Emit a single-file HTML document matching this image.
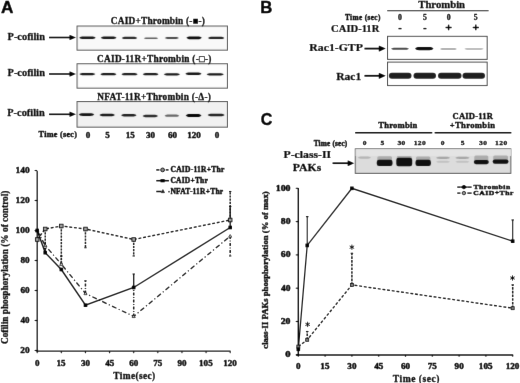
<!DOCTYPE html>
<html><head><meta charset="utf-8"><style>
html,body{margin:0;padding:0;background:#fff;}
svg{display:block;}
</style></head><body>
<svg width="520" height="383" viewBox="0 0 520 383">
<defs><filter id="soft" color-interpolation-filters="sRGB" x="0" y="0" width="520" height="383" filterUnits="userSpaceOnUse"><feConvolveMatrix order="3" kernelMatrix="1 7 1 7 54 7 1 7 1" divisor="80" edgeMode="duplicate"/></filter></defs>
<rect width="520" height="383" fill="#fff"/>
<g filter="url(#soft)">
<rect width="520" height="383" fill="#fff"/>
<text transform="translate(0.91,12.60) scale(1.069,1)" font-size="16.1" font-family="'Liberation Sans',sans-serif" font-weight="bold" stroke="#000" stroke-width="0.45">A</text>
<rect x="77" y="26.0" width="150.5" height="24.200000000000003" fill="#e8e8e8" stroke="#454545" stroke-width="1"/>
<text transform="translate(110.78,24.30)" font-size="9.3" font-family="'Liberation Serif',serif" font-weight="bold" letter-spacing="0.231" stroke="#000" stroke-width="0.32">CAID+Thrombin (-■-)</text>
<text transform="translate(7.54,40.00) scale(1.038,1)" font-size="10" font-family="'Liberation Serif',serif" font-weight="bold" stroke="#000" stroke-width="0.25">P-cofilin</text>
<line x1="49" y1="37.5" x2="70.5" y2="37.5" stroke="#000" stroke-width="1.6"/>
<path d="M76,37.5 L69.5,34.7 L69.5,40.3 Z" fill="#000"/>
<g>
<path d="M79.2,37.80 C80.8,36.60 81.6,36.60 83.2,36.60 L91.7,36.60 C93.3,36.60 94.1,36.60 95.7,37.80 C94.1,39.00 93.3,39.00 91.7,39.00 L83.2,39.00 C81.6,39.00 80.8,39.00 79.2,37.80 Z" fill="#161616" opacity="1"/>
<path d="M100.8,37.80 C102.4,36.60 103.2,36.60 104.8,36.60 L112.5,36.60 C114.1,36.60 114.9,36.60 116.5,37.80 C114.9,39.00 114.1,39.00 112.5,39.00 L104.8,39.00 C103.2,39.00 102.4,39.00 100.8,37.80 Z" fill="#161616" opacity="1"/>
<path d="M121.8,37.90 C123.4,36.80 124.2,36.80 125.8,36.80 L133.2,36.80 C134.8,36.80 135.6,36.80 137.2,37.90 C135.6,39.00 134.8,39.00 133.2,39.00 L125.8,39.00 C124.2,39.00 123.4,39.00 121.8,37.90 Z" fill="#262626" opacity="1"/>
<path d="M143.8,38.20 C145.4,37.40 146.2,37.40 147.8,37.40 L154.2,37.40 C155.8,37.40 156.6,37.40 158.2,38.20 C156.6,39.00 155.8,39.00 154.2,39.00 L147.8,39.00 C146.2,39.00 145.4,39.00 143.8,38.20 Z" fill="#555" opacity="1"/>
<path d="M164.7,38.00 C166.3,37.10 167.1,37.10 168.7,37.10 L175.0,37.10 C176.6,37.10 177.4,37.10 179.0,38.00 C177.4,38.90 176.6,38.90 175.0,38.90 L168.7,38.90 C167.1,38.90 166.3,38.90 164.7,38.00 Z" fill="#444" opacity="1"/>
<path d="M186.4,37.80 C188.0,36.40 188.8,36.40 190.4,36.40 L197.8,36.40 C199.4,36.40 200.2,36.40 201.8,37.80 C200.2,39.20 199.4,39.20 197.8,39.20 L190.4,39.20 C188.8,39.20 188.0,39.20 186.4,37.80 Z" fill="#0a0a0a" opacity="1"/>
<path d="M208.0,37.90 C209.6,36.75 210.4,36.75 212.0,36.75 L220.3,36.75 C221.9,36.75 222.7,36.75 224.3,37.90 C222.7,39.05 221.9,39.05 220.3,39.05 L212.0,39.05 C210.4,39.05 209.6,39.05 208.0,37.90 Z" fill="#1e1e1e" opacity="1"/>
</g>
<rect x="77" y="63.7" width="150.5" height="24.5" fill="#ebebeb" stroke="#454545" stroke-width="1"/>
<text transform="translate(97.08,61.60)" font-size="9.3" font-family="'Liberation Serif',serif" font-weight="bold" letter-spacing="0.257" stroke="#000" stroke-width="0.32">CAID-11R+Thrombin (-□-)</text>
<text transform="translate(7.54,76.30) scale(1.038,1)" font-size="10" font-family="'Liberation Serif',serif" font-weight="bold" stroke="#000" stroke-width="0.25">P-cofilin</text>
<line x1="49" y1="74.0" x2="70.5" y2="74.0" stroke="#000" stroke-width="1.6"/>
<path d="M76,74.0 L69.5,71.2 L69.5,76.8 Z" fill="#000"/>
<g>
<path d="M79.4,74.10 C81.0,72.95 81.8,72.95 83.4,72.95 L91.3,72.95 C92.9,72.95 93.7,72.95 95.3,74.10 C93.7,75.25 92.9,75.25 91.3,75.25 L83.4,75.25 C81.8,75.25 81.0,75.25 79.4,74.10 Z" fill="#161616" opacity="1"/>
<path d="M100.4,74.20 C102.0,73.05 102.8,73.05 104.4,73.05 L112.4,73.05 C114.0,73.05 114.8,73.05 116.4,74.20 C114.8,75.35 114.0,75.35 112.4,75.35 L104.4,75.35 C102.8,75.35 102.0,75.35 100.4,74.20 Z" fill="#161616" opacity="1"/>
<path d="M121.5,74.20 C123.1,73.05 123.9,73.05 125.5,73.05 L133.6,73.05 C135.2,73.05 136.0,73.05 137.6,74.20 C136.0,75.35 135.2,75.35 133.6,75.35 L125.5,75.35 C123.9,75.35 123.1,75.35 121.5,74.20 Z" fill="#1a1a1a" opacity="1"/>
<path d="M142.8,74.20 C144.4,73.05 145.2,73.05 146.8,73.05 L154.5,73.05 C156.1,73.05 156.9,73.05 158.5,74.20 C156.9,75.35 156.1,75.35 154.5,75.35 L146.8,75.35 C145.2,75.35 144.4,75.35 142.8,74.20 Z" fill="#181818" opacity="1"/>
<path d="M163.8,74.30 C165.4,73.15 166.2,73.15 167.8,73.15 L176.0,73.15 C177.6,73.15 178.4,73.15 180.0,74.30 C178.4,75.45 177.6,75.45 176.0,75.45 L167.8,75.45 C166.2,75.45 165.4,75.45 163.8,74.30 Z" fill="#161616" opacity="1"/>
<path d="M185.4,73.80 C187.0,72.60 187.8,72.60 189.4,72.60 L197.5,72.60 C199.1,72.60 199.9,72.60 201.5,73.80 C199.9,75.00 199.1,75.00 197.5,75.00 L189.4,75.00 C187.8,75.00 187.0,75.00 185.4,73.80 Z" fill="#111" opacity="1"/>
<path d="M206.6,74.30 C208.2,73.15 209.0,73.15 210.6,73.15 L219.8,73.15 C221.4,73.15 222.2,73.15 223.8,74.30 C222.2,75.45 221.4,75.45 219.8,75.45 L210.6,75.45 C209.0,75.45 208.2,75.45 206.6,74.30 Z" fill="#161616" opacity="1"/>
</g>
<rect x="77" y="101.5" width="150.5" height="25.700000000000003" fill="#e0e0e0" stroke="#454545" stroke-width="1"/>
<text transform="translate(97.36,99.90)" font-size="9.3" font-family="'Liberation Serif',serif" font-weight="bold" letter-spacing="0.243" stroke="#000" stroke-width="0.32">NFAT-11R+Thrombin (-Δ-)</text>
<text transform="translate(7.24,116.30) scale(1.038,1)" font-size="10" font-family="'Liberation Serif',serif" font-weight="bold" stroke="#000" stroke-width="0.25">P-cofilin</text>
<line x1="49" y1="114.3" x2="70.5" y2="114.3" stroke="#000" stroke-width="1.6"/>
<path d="M76,114.3 L69.5,111.5 L69.5,117.1 Z" fill="#000"/>
<g>
<path d="M78.8,114.60 C80.4,113.30 81.2,113.30 82.8,113.30 L90.2,113.30 C91.8,113.30 92.6,113.30 94.2,114.60 C92.6,115.90 91.8,115.90 90.2,115.90 L82.8,115.90 C81.2,115.90 80.4,115.90 78.8,114.60 Z" fill="#111" opacity="1"/>
<path d="M99.5,115.10 C101.1,113.85 101.9,113.85 103.5,113.85 L110.9,113.85 C112.5,113.85 113.3,113.85 114.9,115.10 C113.3,116.35 112.5,116.35 110.9,116.35 L103.5,116.35 C101.9,116.35 101.1,116.35 99.5,115.10 Z" fill="#151515" opacity="1"/>
<path d="M121.1,115.20 C122.7,114.00 123.5,114.00 125.1,114.00 L132.5,114.00 C134.1,114.00 134.9,114.00 136.5,115.20 C134.9,116.40 134.1,116.40 132.5,116.40 L125.1,116.40 C123.5,116.40 122.7,116.40 121.1,115.20 Z" fill="#1c1c1c" opacity="1"/>
<path d="M142.6,116.00 C144.2,114.80 145.0,114.80 146.6,114.80 L154.0,114.80 C155.6,114.80 156.4,114.80 158.0,116.00 C156.4,117.20 155.6,117.20 154.0,117.20 L146.6,117.20 C145.0,117.20 144.2,117.20 142.6,116.00 Z" fill="#262626" opacity="1"/>
<path d="M164.6,115.70 C166.2,114.60 167.0,114.60 168.6,114.60 L175.2,114.60 C176.8,114.60 177.6,114.60 179.2,115.70 C177.6,116.80 176.8,116.80 175.2,116.80 L168.6,116.80 C167.0,116.80 166.2,116.80 164.6,115.70 Z" fill="#5e5e5e" opacity="1"/>
<path d="M185.7,115.40 C187.3,113.90 188.1,113.90 189.7,113.90 L197.5,113.90 C199.1,113.90 199.9,113.90 201.5,115.40 C199.9,116.90 199.1,116.90 197.5,116.90 L189.7,116.90 C188.1,116.90 187.3,116.90 185.7,115.40 Z" fill="#050505" opacity="1"/>
<path d="M207.7,114.90 C209.3,113.65 210.1,113.65 211.7,113.65 L220.6,113.65 C222.2,113.65 223.0,113.65 224.6,114.90 C223.0,116.15 222.2,116.15 220.6,116.15 L211.7,116.15 C210.1,116.15 209.3,116.15 207.7,114.90 Z" fill="#1e1e1e" opacity="1"/>
</g>
<text transform="translate(38.58,137.40)" font-size="8.2" font-family="'Liberation Serif',serif" font-weight="bold" letter-spacing="0.269" stroke="#000" stroke-width="0.42">Time (sec)</text>
<text transform="translate(85.73,137.90) scale(1.080,1)" font-size="8.4" font-family="'Liberation Serif',serif" font-weight="bold" letter-spacing="0.000" stroke="#000" stroke-width="0.41">0</text>
<text transform="translate(105.31,137.90) scale(1.080,1)" font-size="8.4" font-family="'Liberation Serif',serif" font-weight="bold" letter-spacing="0.000" stroke="#000" stroke-width="0.41">5</text>
<text transform="translate(125.66,137.90) scale(1.080,1)" font-size="8.4" font-family="'Liberation Serif',serif" font-weight="bold" letter-spacing="0.000" stroke="#000" stroke-width="0.41">15</text>
<text transform="translate(145.96,137.90) scale(1.080,1)" font-size="8.4" font-family="'Liberation Serif',serif" font-weight="bold" letter-spacing="0.000" stroke="#000" stroke-width="0.41">30</text>
<text transform="translate(167.89,137.90) scale(1.080,1)" font-size="8.4" font-family="'Liberation Serif',serif" font-weight="bold" letter-spacing="0.000" stroke="#000" stroke-width="0.41">60</text>
<text transform="translate(187.19,137.90) scale(1.080,1)" font-size="8.4" font-family="'Liberation Serif',serif" font-weight="bold" letter-spacing="0.000" stroke="#000" stroke-width="0.41">120</text>
<text transform="translate(214.73,137.90) scale(1.080,1)" font-size="8.4" font-family="'Liberation Serif',serif" font-weight="bold" letter-spacing="0.000" stroke="#000" stroke-width="0.41">0</text>
<line x1="37.20" y1="171.00" x2="37.20" y2="351.80" stroke="#000" stroke-width="1.3"/>
<line x1="36.60" y1="351.20" x2="230.60" y2="351.20" stroke="#000" stroke-width="1.3"/>
<line x1="34.60" y1="350.50" x2="37.20" y2="350.50" stroke="#000" stroke-width="1.1"/>
<text transform="translate(20.33,353.10) scale(1.107,1)" font-size="8.4" font-family="'Liberation Serif',serif" font-weight="bold" stroke="#000" stroke-width="0.41">20</text>
<line x1="34.60" y1="320.50" x2="37.20" y2="320.50" stroke="#000" stroke-width="1.1"/>
<text transform="translate(20.61,323.10) scale(1.072,1)" font-size="8.4" font-family="'Liberation Serif',serif" font-weight="bold" stroke="#000" stroke-width="0.41">40</text>
<line x1="34.60" y1="290.50" x2="37.20" y2="290.50" stroke="#000" stroke-width="1.1"/>
<text transform="translate(20.42,293.10) scale(1.095,1)" font-size="8.4" font-family="'Liberation Serif',serif" font-weight="bold" stroke="#000" stroke-width="0.41">60</text>
<line x1="34.60" y1="260.50" x2="37.20" y2="260.50" stroke="#000" stroke-width="1.1"/>
<text transform="translate(20.42,263.10) scale(1.095,1)" font-size="8.4" font-family="'Liberation Serif',serif" font-weight="bold" stroke="#000" stroke-width="0.41">80</text>
<line x1="34.60" y1="230.50" x2="37.20" y2="230.50" stroke="#000" stroke-width="1.1"/>
<text transform="translate(15.55,233.10) scale(1.117,1)" font-size="8.4" font-family="'Liberation Serif',serif" font-weight="bold" stroke="#000" stroke-width="0.41">100</text>
<line x1="34.60" y1="200.50" x2="37.20" y2="200.50" stroke="#000" stroke-width="1.1"/>
<text transform="translate(15.55,203.10) scale(1.117,1)" font-size="8.4" font-family="'Liberation Serif',serif" font-weight="bold" stroke="#000" stroke-width="0.41">120</text>
<line x1="34.60" y1="170.50" x2="37.20" y2="170.50" stroke="#000" stroke-width="1.1"/>
<text transform="translate(15.55,173.10) scale(1.117,1)" font-size="8.4" font-family="'Liberation Serif',serif" font-weight="bold" stroke="#000" stroke-width="0.41">140</text>
<line x1="37.20" y1="351.20" x2="37.20" y2="353.20" stroke="#000" stroke-width="1.1"/>
<text transform="translate(34.93,365.90) scale(1.080,1)" font-size="8.4" font-family="'Liberation Serif',serif" font-weight="bold" letter-spacing="0.000" stroke="#000" stroke-width="0.41">0</text>
<line x1="61.33" y1="351.20" x2="61.33" y2="353.20" stroke="#000" stroke-width="1.1"/>
<text transform="translate(56.58,365.90) scale(1.080,1)" font-size="8.4" font-family="'Liberation Serif',serif" font-weight="bold" letter-spacing="0.000" stroke="#000" stroke-width="0.41">15</text>
<line x1="85.45" y1="351.20" x2="85.45" y2="353.20" stroke="#000" stroke-width="1.1"/>
<text transform="translate(80.91,365.90) scale(1.080,1)" font-size="8.4" font-family="'Liberation Serif',serif" font-weight="bold" letter-spacing="0.000" stroke="#000" stroke-width="0.41">30</text>
<line x1="109.58" y1="351.20" x2="109.58" y2="353.20" stroke="#000" stroke-width="1.1"/>
<text transform="translate(105.15,365.90) scale(1.080,1)" font-size="8.4" font-family="'Liberation Serif',serif" font-weight="bold" letter-spacing="0.000" stroke="#000" stroke-width="0.41">45</text>
<line x1="133.70" y1="351.20" x2="133.70" y2="353.20" stroke="#000" stroke-width="1.1"/>
<text transform="translate(129.19,365.90) scale(1.080,1)" font-size="8.4" font-family="'Liberation Serif',serif" font-weight="bold" letter-spacing="0.000" stroke="#000" stroke-width="0.41">60</text>
<line x1="157.82" y1="351.20" x2="157.82" y2="353.20" stroke="#000" stroke-width="1.1"/>
<text transform="translate(153.20,365.90) scale(1.080,1)" font-size="8.4" font-family="'Liberation Serif',serif" font-weight="bold" letter-spacing="0.000" stroke="#000" stroke-width="0.41">75</text>
<line x1="181.95" y1="351.20" x2="181.95" y2="353.20" stroke="#000" stroke-width="1.1"/>
<text transform="translate(177.46,365.90) scale(1.080,1)" font-size="8.4" font-family="'Liberation Serif',serif" font-weight="bold" letter-spacing="0.000" stroke="#000" stroke-width="0.41">90</text>
<line x1="206.07" y1="351.20" x2="206.07" y2="353.20" stroke="#000" stroke-width="1.1"/>
<text transform="translate(199.07,365.90) scale(1.080,1)" font-size="8.4" font-family="'Liberation Serif',serif" font-weight="bold" letter-spacing="0.000" stroke="#000" stroke-width="0.41">105</text>
<line x1="230.20" y1="351.20" x2="230.20" y2="353.20" stroke="#000" stroke-width="1.1"/>
<text transform="translate(223.19,365.90) scale(1.080,1)" font-size="8.4" font-family="'Liberation Serif',serif" font-weight="bold" letter-spacing="0.000" stroke="#000" stroke-width="0.41">120</text>
<text transform="translate(113.36,378.60)" font-size="9.4" font-family="'Liberation Serif',serif" font-weight="bold" letter-spacing="0.371" stroke="#000" stroke-width="0.31">Time(sec)</text>
<text transform="translate(7.70,344.02) rotate(-90) scale(1.003,1)" font-size="9.3" font-family="'Liberation Serif',serif" font-weight="bold" stroke="#000" stroke-width="0.32">Cofilin phosphorylation (% of control)</text>
<line x1="45.24" y1="229.00" x2="45.24" y2="245.50" stroke="#000" stroke-width="1.5" stroke-dasharray="2.2,1"/>
<line x1="44.04" y1="245.50" x2="46.44" y2="245.50" stroke="#000" stroke-width="1.1"/>
<line x1="61.33" y1="226.00" x2="61.33" y2="263.50" stroke="#000" stroke-width="1.5" stroke-dasharray="2.2,1"/>
<line x1="60.12" y1="263.50" x2="62.53" y2="263.50" stroke="#000" stroke-width="1.1"/>
<line x1="85.45" y1="229.00" x2="85.45" y2="247.75" stroke="#000" stroke-width="1.5" stroke-dasharray="2.2,1"/>
<line x1="84.25" y1="247.75" x2="86.65" y2="247.75" stroke="#000" stroke-width="1.1"/>
<line x1="133.70" y1="239.50" x2="133.70" y2="256.00" stroke="#000" stroke-width="1.5" stroke-dasharray="2.2,1"/>
<line x1="132.50" y1="256.00" x2="134.90" y2="256.00" stroke="#000" stroke-width="1.1"/>
<line x1="230.20" y1="220.00" x2="230.20" y2="191.50" stroke="#000" stroke-width="1.5" stroke-dasharray="2.2,1"/>
<line x1="229.00" y1="191.50" x2="231.40" y2="191.50" stroke="#000" stroke-width="1.1"/>
<line x1="133.70" y1="287.50" x2="133.70" y2="274.00" stroke="#000" stroke-width="1.3"/>
<line x1="132.50" y1="274.00" x2="134.90" y2="274.00" stroke="#000" stroke-width="1.1"/>
<line x1="230.20" y1="227.50" x2="230.20" y2="206.50" stroke="#000" stroke-width="1.3"/>
<line x1="229.00" y1="206.50" x2="231.40" y2="206.50" stroke="#000" stroke-width="1.1"/>
<line x1="45.24" y1="252.70" x2="45.24" y2="248.50" stroke="#000" stroke-width="1.3"/>
<line x1="44.04" y1="248.50" x2="46.44" y2="248.50" stroke="#000" stroke-width="1.1"/>
<line x1="61.33" y1="264.25" x2="61.33" y2="256.00" stroke="#000" stroke-width="1.5" stroke-dasharray="3,1.5,1,1.5"/>
<line x1="60.12" y1="256.00" x2="62.53" y2="256.00" stroke="#000" stroke-width="1.1"/>
<line x1="85.45" y1="293.50" x2="85.45" y2="280.75" stroke="#000" stroke-width="1.5" stroke-dasharray="3,1.5,1,1.5"/>
<line x1="84.25" y1="280.75" x2="86.65" y2="280.75" stroke="#000" stroke-width="1.1"/>
<line x1="133.70" y1="316.45" x2="133.70" y2="287.50" stroke="#000" stroke-width="1.5" stroke-dasharray="3,1.5,1,1.5"/>
<line x1="132.50" y1="287.50" x2="134.90" y2="287.50" stroke="#000" stroke-width="1.1"/>
<line x1="230.20" y1="236.05" x2="230.20" y2="256.00" stroke="#000" stroke-width="1.5" stroke-dasharray="3,1.5,1,1.5"/>
<line x1="229.00" y1="256.00" x2="231.40" y2="256.00" stroke="#000" stroke-width="1.1"/>
<polyline points="37.2,239.5 45.2,229.0 61.3,226.0 85.5,229.0 133.7,239.5 230.2,220.0" fill="none" stroke="#000" stroke-width="1.35" stroke-dasharray="3,1.7"/>
<polyline points="37.2,230.5 45.2,252.7 61.3,269.5 85.5,305.2 133.7,287.5 230.2,227.5" fill="none" stroke="#000" stroke-width="1.35"/>
<polyline points="37.2,230.5 45.2,245.5 61.3,264.2 85.5,293.5 133.7,316.4 230.2,236.1" fill="none" stroke="#000" stroke-width="1.3" stroke-dasharray="5,2.3,1.3,2.3"/>
<path d="M37.2,228.9 L38.8,231.7 L35.6,231.7 Z" fill="#fff" stroke="#000" stroke-width="0.8"/>
<path d="M45.2,243.9 L46.8,246.7 L43.6,246.7 Z" fill="#fff" stroke="#000" stroke-width="0.8"/>
<path d="M61.3,262.6 L62.9,265.4 L59.7,265.4 Z" fill="#fff" stroke="#000" stroke-width="0.8"/>
<path d="M85.5,291.9 L87.0,294.7 L83.9,294.7 Z" fill="#fff" stroke="#000" stroke-width="0.8"/>
<path d="M133.7,314.8 L135.3,317.6 L132.1,317.6 Z" fill="#fff" stroke="#000" stroke-width="0.8"/>
<path d="M230.2,234.5 L231.8,237.2 L228.6,237.2 Z" fill="#fff" stroke="#000" stroke-width="0.8"/>
<rect x="35.4" y="237.7" width="3.6" height="3.6" fill="#a0a0a0" stroke="#000" stroke-width="0.9"/>
<rect x="43.4" y="227.2" width="3.6" height="3.6" fill="#a0a0a0" stroke="#000" stroke-width="0.9"/>
<rect x="59.5" y="224.2" width="3.6" height="3.6" fill="#a0a0a0" stroke="#000" stroke-width="0.9"/>
<rect x="83.7" y="227.2" width="3.6" height="3.6" fill="#a0a0a0" stroke="#000" stroke-width="0.9"/>
<rect x="131.9" y="237.7" width="3.6" height="3.6" fill="#a0a0a0" stroke="#000" stroke-width="0.9"/>
<rect x="228.4" y="218.2" width="3.6" height="3.6" fill="#a0a0a0" stroke="#000" stroke-width="0.9"/>
<rect x="35.4" y="228.7" width="3.6" height="3.6" fill="#000"/>
<rect x="43.4" y="250.9" width="3.6" height="3.6" fill="#000"/>
<rect x="59.5" y="267.7" width="3.6" height="3.6" fill="#000"/>
<rect x="83.7" y="303.4" width="3.6" height="3.6" fill="#000"/>
<rect x="131.9" y="285.7" width="3.6" height="3.6" fill="#000"/>
<rect x="228.4" y="225.7" width="3.6" height="3.6" fill="#000"/>
<line x1="156.20" y1="169.90" x2="159.40" y2="169.90" stroke="#000" stroke-width="1.5"/>
<line x1="165.80" y1="169.90" x2="168.60" y2="169.90" stroke="#000" stroke-width="1.5"/>
<circle cx="162.6" cy="169.9" r="1.9" fill="#8a8a8a" stroke="#000" stroke-width="1"/>
<text transform="translate(170.46,172.10) scale(1.051,1)" font-size="7.2" font-family="'Liberation Serif',serif" font-weight="bold" letter-spacing="0.214" stroke="#000" stroke-width="0.42">CAID-11R+Thr</text>
<line x1="156.20" y1="180.70" x2="169.00" y2="180.70" stroke="#000" stroke-width="1.5"/>
<rect x="160.5" y="179.10000000000002" width="4.2" height="3.2" fill="#000"/>
<text transform="translate(170.46,182.90) scale(1.042,1)" font-size="7.2" font-family="'Liberation Serif',serif" font-weight="bold" letter-spacing="0.196" stroke="#000" stroke-width="0.42">CAID+Thr</text>
<line x1="156.20" y1="191.50" x2="161.50" y2="191.50" stroke="#000" stroke-width="1.5"/>
<path d="M162.9,189.5 L164.6,192.7 L161.2,192.7 Z" fill="#222" stroke="#000" stroke-width="0.6"/>
<text transform="translate(167.76,193.70) scale(1.046,1)" font-size="7.2" font-family="'Liberation Serif',serif" font-weight="bold" letter-spacing="0.182" stroke="#000" stroke-width="0.42">·NFAT-11R+Thr</text>
<text transform="translate(260.26,12.60) scale(1.040,1)" font-size="16.1" font-family="'Liberation Sans',sans-serif" font-weight="bold" stroke="#000" stroke-width="0.45">B</text>
<text transform="translate(418.24,8.20) scale(1.072,1)" font-size="10" font-family="'Liberation Serif',serif" font-weight="bold" stroke="#000" stroke-width="0.25">Thrombin</text>
<line x1="387.10" y1="10.80" x2="488.70" y2="10.80" stroke="#000" stroke-width="1.1"/>
<text transform="translate(344.99,20.00)" font-size="7.3" font-family="'Liberation Serif',serif" font-weight="bold" letter-spacing="0.370" stroke="#000" stroke-width="0.42">Time (sec)</text>
<text transform="translate(331.12,31.60) scale(1.059,1)" font-size="10" font-family="'Liberation Serif',serif" font-weight="bold" stroke="#000" stroke-width="0.25">CAID-11R</text>
<text transform="translate(398.06,19.90) scale(1.080,1)" font-size="7.2" font-family="'Liberation Serif',serif" font-weight="bold" letter-spacing="0.200" stroke="#000" stroke-width="0.32">0</text>
<line x1="398.40" y1="28.60" x2="401.60" y2="28.60" stroke="#000" stroke-width="1.4"/>
<text transform="translate(422.94,19.90) scale(1.080,1)" font-size="7.2" font-family="'Liberation Serif',serif" font-weight="bold" letter-spacing="0.200" stroke="#000" stroke-width="0.32">5</text>
<line x1="423.30" y1="28.60" x2="426.50" y2="28.60" stroke="#000" stroke-width="1.4"/>
<text transform="translate(446.66,19.90) scale(1.080,1)" font-size="7.2" font-family="'Liberation Serif',serif" font-weight="bold" letter-spacing="0.200" stroke="#000" stroke-width="0.32">0</text>
<line x1="445.50" y1="27.50" x2="451.70" y2="27.50" stroke="#000" stroke-width="1.4"/>
<line x1="448.60" y1="24.60" x2="448.60" y2="30.30" stroke="#000" stroke-width="1.4"/>
<text transform="translate(473.84,19.90) scale(1.080,1)" font-size="7.2" font-family="'Liberation Serif',serif" font-weight="bold" letter-spacing="0.200" stroke="#000" stroke-width="0.32">5</text>
<line x1="472.70" y1="27.50" x2="478.90" y2="27.50" stroke="#000" stroke-width="1.4"/>
<line x1="475.80" y1="24.60" x2="475.80" y2="30.30" stroke="#000" stroke-width="1.4"/>
<rect x="387.5" y="36.3" width="99.7" height="23.1" fill="#f6f6f6" stroke="#333" stroke-width="1"/>
<rect x="387.5" y="62.1" width="99.7" height="23.5" fill="#f6f6f6" stroke="#333" stroke-width="1"/>
<text transform="translate(309.32,51.30) scale(1.041,1)" font-size="11.3" font-family="'Liberation Serif',serif" font-weight="bold" stroke="#000" stroke-width="0.25">Rac1-GTP</text>
<text transform="translate(336.13,79.70) scale(1.024,1)" font-size="11.3" font-family="'Liberation Serif',serif" font-weight="bold" stroke="#000" stroke-width="0.25">Rac1</text>
<line x1="364.4" y1="48.6" x2="379.8" y2="48.6" stroke="#000" stroke-width="1.8"/>
<path d="M385.8,48.6 L378.8,45.5 L378.8,51.7 Z" fill="#000"/>
<line x1="364.4" y1="75.8" x2="379.8" y2="75.8" stroke="#000" stroke-width="1.8"/>
<path d="M385.8,75.8 L378.8,72.7 L378.8,78.89999999999999 Z" fill="#000"/>
<g>
<path d="M390.9,48.80 C392.5,47.80 393.3,47.80 394.9,47.80 L405.1,47.80 C406.7,47.80 407.5,47.80 409.1,48.80 C407.5,49.80 406.7,49.80 405.1,49.80 L394.9,49.80 C393.3,49.80 392.5,49.80 390.9,48.80 Z" fill="#3e3e3e" opacity="1"/>
<path d="M415.0,48.60 C416.6,47.00 417.4,47.00 419.0,47.00 L429.5,47.00 C431.1,47.00 431.9,47.00 433.5,48.60 C431.9,50.20 431.1,50.20 429.5,50.20 L419.0,50.20 C417.4,50.20 416.6,50.20 415.0,48.60 Z" fill="#0c0c0c" opacity="1"/>
<path d="M439.9,49.00 C441.5,48.25 442.3,48.25 443.9,48.25 L453.0,48.25 C454.6,48.25 455.4,48.25 457.0,49.00 C455.4,49.75 454.6,49.75 453.0,49.75 L443.9,49.75 C442.3,49.75 441.5,49.75 439.9,49.00 Z" fill="#858585" opacity="1"/>
<path d="M464.0,49.00 C465.6,48.35 466.4,48.35 468.0,48.35 L480.0,48.35 C481.6,48.35 482.4,48.35 484.0,49.00 C482.4,49.65 481.6,49.65 480.0,49.65 L468.0,49.65 C466.4,49.65 465.6,49.65 464.0,49.00 Z" fill="#959595" opacity="1"/>
<rect x="388.9" y="72.7" width="22.6" height="6.0" rx="3" fill="#1c1c1c"/>
<rect x="413.5" y="72.7" width="22.5" height="6.0" rx="3" fill="#1c1c1c"/>
<rect x="438.0" y="72.7" width="23.5" height="6.0" rx="3" fill="#1c1c1c"/>
<rect x="462.5" y="72.7" width="22.5" height="6.0" rx="3" fill="#1c1c1c"/>
</g>
<text transform="translate(260.81,125.20) scale(0.983,1)" font-size="16.3" font-family="'Liberation Sans',sans-serif" font-weight="bold" stroke="#000" stroke-width="0.45">C</text>
<text transform="translate(378.17,128.10)" font-size="8.6" font-family="'Liberation Serif',serif" font-weight="bold" letter-spacing="0.232" stroke="#000" stroke-width="0.39">Thrombin</text>
<text transform="translate(452.51,119.00)" font-size="8.6" font-family="'Liberation Serif',serif" font-weight="bold" letter-spacing="0.185" stroke="#000" stroke-width="0.39">CAID-11R</text>
<text transform="translate(449.67,128.10)" font-size="8.6" font-family="'Liberation Serif',serif" font-weight="bold" letter-spacing="0.353" stroke="#000" stroke-width="0.39">+Thrombin</text>
<line x1="355.10" y1="132.80" x2="432.30" y2="132.80" stroke="#000" stroke-width="1.5"/>
<line x1="434.60" y1="132.80" x2="511.40" y2="132.80" stroke="#000" stroke-width="1.5"/>
<text transform="translate(313.64,145.50)" font-size="7.3" font-family="'Liberation Serif',serif" font-weight="bold" letter-spacing="0.175" stroke="#000" stroke-width="0.42">Time (sec)</text>
<text transform="translate(362.81,144.80) scale(1.080,1)" font-size="7.0" font-family="'Liberation Serif',serif" font-weight="bold" letter-spacing="0.400" stroke="#000" stroke-width="0.32">0</text>
<text transform="translate(380.59,144.80) scale(1.080,1)" font-size="7.0" font-family="'Liberation Serif',serif" font-weight="bold" letter-spacing="0.400" stroke="#000" stroke-width="0.32">5</text>
<text transform="translate(397.40,144.80) scale(1.080,1)" font-size="7.0" font-family="'Liberation Serif',serif" font-weight="bold" letter-spacing="0.400" stroke="#000" stroke-width="0.32">30</text>
<text transform="translate(413.63,144.80) scale(1.080,1)" font-size="7.0" font-family="'Liberation Serif',serif" font-weight="bold" letter-spacing="0.400" stroke="#000" stroke-width="0.32">120</text>
<text transform="translate(440.81,144.80) scale(1.080,1)" font-size="7.0" font-family="'Liberation Serif',serif" font-weight="bold" letter-spacing="0.400" stroke="#000" stroke-width="0.32">0</text>
<text transform="translate(460.69,144.80) scale(1.080,1)" font-size="7.0" font-family="'Liberation Serif',serif" font-weight="bold" letter-spacing="0.400" stroke="#000" stroke-width="0.32">5</text>
<text transform="translate(479.00,144.80) scale(1.080,1)" font-size="7.0" font-family="'Liberation Serif',serif" font-weight="bold" letter-spacing="0.400" stroke="#000" stroke-width="0.32">30</text>
<text transform="translate(495.03,144.80) scale(1.080,1)" font-size="7.0" font-family="'Liberation Serif',serif" font-weight="bold" letter-spacing="0.400" stroke="#000" stroke-width="0.32">120</text>
<rect x="355.2" y="148.8" width="155.7" height="24.6" fill="#cdcdcd" stroke="#4a4a4a" stroke-width="1"/>
<text transform="translate(283.57,158.00) scale(1.037,1)" font-size="11.3" font-family="'Liberation Serif',serif" font-weight="bold" stroke="#000" stroke-width="0.25">P-class-II</text>
<text transform="translate(292.82,170.50) scale(1.038,1)" font-size="11.3" font-family="'Liberation Serif',serif" font-weight="bold" stroke="#000" stroke-width="0.25">PAKs</text>
<line x1="332.5" y1="163.2" x2="348.7" y2="163.2" stroke="#000" stroke-width="1.7"/>
<path d="M354.2,163.2 L347.7,160.2 L347.7,166.2 Z" fill="#000"/>
<g>
<rect x="355.6" y="149.1" width="155.3" height="6.9" rx="0" fill="#d4d4d4" opacity="1"/>
<path d="M357.8,157.60 C359.4,156.40 360.2,156.40 361.8,156.40 L367.0,156.40 C368.6,156.40 369.4,156.40 371.0,157.60 C369.4,158.80 368.6,158.80 367.0,158.80 L361.8,158.80 C360.2,158.80 359.4,158.80 357.8,157.60 Z" fill="#a8a8a8" opacity="1"/>
<rect x="377.3" y="156.2" width="14.7" height="4.6" rx="1.5" fill="#a0a0a0" opacity="1"/>
<rect x="376.8" y="159.8" width="15.7" height="6.2" rx="2.2" fill="#0e0e0e" opacity="1"/>
<rect x="396.8" y="156.0" width="14.9" height="2.8" rx="1.5" fill="#a0a0a0" opacity="1"/>
<rect x="396.3" y="157.8" width="15.9" height="8.5" rx="2.2" fill="#0e0e0e" opacity="1"/>
<rect x="416.0" y="156.4" width="14.4" height="4.4" rx="1.5" fill="#a0a0a0" opacity="1"/>
<rect x="415.5" y="159.8" width="15.4" height="6.2" rx="2.2" fill="#0e0e0e" opacity="1"/>
<rect x="474.3" y="155.5" width="14.0" height="5.4" rx="1.5" fill="#a0a0a0" opacity="1"/>
<rect x="473.8" y="159.9" width="15.0" height="4.3" rx="2.2" fill="#0e0e0e" opacity="1"/>
<rect x="493.2" y="155.5" width="14.8" height="4.9" rx="1.5" fill="#a0a0a0" opacity="1"/>
<rect x="492.7" y="159.4" width="15.8" height="4.4" rx="2.2" fill="#0e0e0e" opacity="1"/>
<path d="M436.0,157.80 C437.6,156.70 438.4,156.70 440.0,156.70 L446.1,156.70 C447.7,156.70 448.5,156.70 450.1,157.80 C448.5,158.90 447.7,158.90 446.1,158.90 L440.0,158.90 C438.4,158.90 437.6,158.90 436.0,157.80 Z" fill="#9a9a9a" opacity="1"/>
<path d="M436.0,161.80 C437.6,160.80 438.4,160.80 440.0,160.80 L446.1,160.80 C447.7,160.80 448.5,160.80 450.1,161.80 C448.5,162.80 447.7,162.80 446.1,162.80 L440.0,162.80 C438.4,162.80 437.6,162.80 436.0,161.80 Z" fill="#b4b4b4" opacity="1"/>
<path d="M455.3,157.80 C456.9,156.70 457.7,156.70 459.3,156.70 L465.5,156.70 C467.1,156.70 467.9,156.70 469.5,157.80 C467.9,158.90 467.1,158.90 465.5,158.90 L459.3,158.90 C457.7,158.90 456.9,158.90 455.3,157.80 Z" fill="#9a9a9a" opacity="1"/>
<path d="M455.3,161.80 C456.9,160.80 457.7,160.80 459.3,160.80 L465.5,160.80 C467.1,160.80 467.9,160.80 469.5,161.80 C467.9,162.80 467.1,162.80 465.5,162.80 L459.3,162.80 C457.7,162.80 456.9,162.80 455.3,161.80 Z" fill="#b4b4b4" opacity="1"/>
</g>
<line x1="298.30" y1="188.10" x2="298.30" y2="355.70" stroke="#000" stroke-width="1.4"/>
<line x1="296.00" y1="355.00" x2="513.20" y2="355.00" stroke="#000" stroke-width="1.3"/>
<line x1="295.70" y1="354.80" x2="298.30" y2="354.80" stroke="#000" stroke-width="1.1"/>
<text transform="translate(285.23,357.20) scale(1.408,1)" font-size="7.6" font-family="'Liberation Serif',serif" font-weight="bold" stroke="#000" stroke-width="0.42">0</text>
<line x1="295.70" y1="321.50" x2="298.30" y2="321.50" stroke="#000" stroke-width="1.1"/>
<text transform="translate(280.71,323.90) scale(1.294,1)" font-size="7.6" font-family="'Liberation Serif',serif" font-weight="bold" stroke="#000" stroke-width="0.42">20</text>
<line x1="295.70" y1="288.20" x2="298.30" y2="288.20" stroke="#000" stroke-width="1.1"/>
<text transform="translate(281.00,290.60) scale(1.254,1)" font-size="7.6" font-family="'Liberation Serif',serif" font-weight="bold" stroke="#000" stroke-width="0.42">40</text>
<line x1="295.70" y1="254.90" x2="298.30" y2="254.90" stroke="#000" stroke-width="1.1"/>
<text transform="translate(280.81,257.30) scale(1.281,1)" font-size="7.6" font-family="'Liberation Serif',serif" font-weight="bold" stroke="#000" stroke-width="0.42">60</text>
<line x1="295.70" y1="221.60" x2="298.30" y2="221.60" stroke="#000" stroke-width="1.1"/>
<text transform="translate(280.81,224.00) scale(1.281,1)" font-size="7.6" font-family="'Liberation Serif',serif" font-weight="bold" stroke="#000" stroke-width="0.42">80</text>
<line x1="295.70" y1="188.30" x2="298.30" y2="188.30" stroke="#000" stroke-width="1.1"/>
<text transform="translate(275.71,190.70) scale(1.302,1)" font-size="7.6" font-family="'Liberation Serif',serif" font-weight="bold" stroke="#000" stroke-width="0.42">100</text>
<line x1="298.30" y1="355.00" x2="298.30" y2="356.80" stroke="#000" stroke-width="1.1"/>
<text transform="translate(296.02,368.60) scale(1.200,1)" font-size="7.6" font-family="'Liberation Serif',serif" font-weight="bold" letter-spacing="0.000" stroke="#000" stroke-width="0.42">0</text>
<line x1="325.10" y1="355.00" x2="325.10" y2="356.80" stroke="#000" stroke-width="1.1"/>
<text transform="translate(320.33,368.60) scale(1.200,1)" font-size="7.6" font-family="'Liberation Serif',serif" font-weight="bold" letter-spacing="0.000" stroke="#000" stroke-width="0.42">15</text>
<line x1="351.90" y1="355.00" x2="351.90" y2="356.80" stroke="#000" stroke-width="1.1"/>
<text transform="translate(347.34,368.60) scale(1.200,1)" font-size="7.6" font-family="'Liberation Serif',serif" font-weight="bold" letter-spacing="0.000" stroke="#000" stroke-width="0.42">30</text>
<line x1="378.70" y1="355.00" x2="378.70" y2="356.80" stroke="#000" stroke-width="1.1"/>
<text transform="translate(374.25,368.60) scale(1.200,1)" font-size="7.6" font-family="'Liberation Serif',serif" font-weight="bold" letter-spacing="0.000" stroke="#000" stroke-width="0.42">45</text>
<line x1="405.50" y1="355.00" x2="405.50" y2="356.80" stroke="#000" stroke-width="1.1"/>
<text transform="translate(400.96,368.60) scale(1.200,1)" font-size="7.6" font-family="'Liberation Serif',serif" font-weight="bold" letter-spacing="0.000" stroke="#000" stroke-width="0.42">60</text>
<line x1="432.30" y1="355.00" x2="432.30" y2="356.80" stroke="#000" stroke-width="1.1"/>
<text transform="translate(427.65,368.60) scale(1.200,1)" font-size="7.6" font-family="'Liberation Serif',serif" font-weight="bold" letter-spacing="0.000" stroke="#000" stroke-width="0.42">75</text>
<line x1="459.10" y1="355.00" x2="459.10" y2="356.80" stroke="#000" stroke-width="1.1"/>
<text transform="translate(454.59,368.60) scale(1.200,1)" font-size="7.6" font-family="'Liberation Serif',serif" font-weight="bold" letter-spacing="0.000" stroke="#000" stroke-width="0.42">90</text>
<line x1="485.90" y1="355.00" x2="485.90" y2="356.80" stroke="#000" stroke-width="1.1"/>
<text transform="translate(478.85,368.60) scale(1.200,1)" font-size="7.6" font-family="'Liberation Serif',serif" font-weight="bold" letter-spacing="0.000" stroke="#000" stroke-width="0.42">105</text>
<line x1="512.70" y1="355.00" x2="512.70" y2="356.80" stroke="#000" stroke-width="1.1"/>
<text transform="translate(505.65,368.60) scale(1.200,1)" font-size="7.6" font-family="'Liberation Serif',serif" font-weight="bold" letter-spacing="0.000" stroke="#000" stroke-width="0.42">120</text>
<text transform="translate(392.86,381.70)" font-size="9.6" font-family="'Liberation Serif',serif" font-weight="bold" letter-spacing="0.483" stroke="#000" stroke-width="0.29">Time (sec)</text>
<text transform="translate(268.20,348.66) rotate(-90) scale(0.999,1)" font-size="8.7" font-family="'Liberation Serif',serif" font-weight="bold" stroke="#000" stroke-width="0.38">class-II PAKs phosphorylation (% of max)</text>
<line x1="307.23" y1="245.41" x2="307.23" y2="216.61" stroke="#000" stroke-width="1.1"/>
<line x1="305.93" y1="216.61" x2="308.53" y2="216.61" stroke="#000" stroke-width="1.1"/>
<line x1="512.70" y1="241.25" x2="512.70" y2="219.94" stroke="#000" stroke-width="1.1"/>
<line x1="511.40" y1="219.94" x2="514.00" y2="219.94" stroke="#000" stroke-width="1.1"/>
<line x1="307.23" y1="339.81" x2="307.23" y2="331.49" stroke="#000" stroke-width="1.5" stroke-dasharray="2.6,1.1"/>
<line x1="305.93" y1="331.49" x2="308.53" y2="331.49" stroke="#000" stroke-width="1.1"/>
<line x1="351.90" y1="284.87" x2="351.90" y2="253.24" stroke="#000" stroke-width="1.5" stroke-dasharray="2.6,1.1"/>
<line x1="350.60" y1="253.24" x2="353.20" y2="253.24" stroke="#000" stroke-width="1.1"/>
<line x1="512.70" y1="308.18" x2="512.70" y2="284.87" stroke="#000" stroke-width="1.5" stroke-dasharray="2.6,1.1"/>
<line x1="511.40" y1="284.87" x2="514.00" y2="284.87" stroke="#000" stroke-width="1.1"/>
<polyline points="298.3,349.3 307.2,245.4 351.9,188.3 512.7,241.2" fill="none" stroke="#000" stroke-width="1.25"/>
<polyline points="298.3,346.6 307.2,339.8 351.9,284.9 512.7,308.2" fill="none" stroke="#000" stroke-width="1.35" stroke-dasharray="3,1.7"/>
<rect x="296.8" y="345.1" width="3.0" height="3.0" fill="#808080" stroke="#000" stroke-width="0.8"/>
<rect x="305.7" y="338.3" width="3.0" height="3.0" fill="#808080" stroke="#000" stroke-width="0.8"/>
<rect x="350.4" y="283.4" width="3.0" height="3.0" fill="#808080" stroke="#000" stroke-width="0.8"/>
<rect x="511.2" y="306.7" width="3.0" height="3.0" fill="#808080" stroke="#000" stroke-width="0.8"/>
<rect x="296.5" y="347.5" width="3.6" height="3.6" fill="#000"/>
<rect x="305.4" y="243.6" width="3.6" height="3.6" fill="#000"/>
<rect x="350.1" y="186.5" width="3.6" height="3.6" fill="#000"/>
<rect x="510.9" y="239.4" width="3.6" height="3.6" fill="#000"/>
<line x1="307.60" y1="321.70" x2="307.60" y2="327.10" stroke="#000" stroke-width="0.95"/>
<line x1="305.26" y1="323.05" x2="309.94" y2="325.75" stroke="#000" stroke-width="0.95"/>
<line x1="305.26" y1="325.75" x2="309.94" y2="323.05" stroke="#000" stroke-width="0.95"/>
<line x1="351.90" y1="244.50" x2="351.90" y2="249.90" stroke="#000" stroke-width="0.95"/>
<line x1="349.56" y1="245.85" x2="354.24" y2="248.55" stroke="#000" stroke-width="0.95"/>
<line x1="349.56" y1="248.55" x2="354.24" y2="245.85" stroke="#000" stroke-width="0.95"/>
<line x1="512.50" y1="275.30" x2="512.50" y2="280.70" stroke="#000" stroke-width="0.95"/>
<line x1="510.16" y1="276.65" x2="514.84" y2="279.35" stroke="#000" stroke-width="0.95"/>
<line x1="510.16" y1="279.35" x2="514.84" y2="276.65" stroke="#000" stroke-width="0.95"/>
<line x1="457.20" y1="187.10" x2="460.50" y2="187.10" stroke="#000" stroke-width="1.4"/>
<line x1="467.30" y1="187.10" x2="471.70" y2="187.10" stroke="#000" stroke-width="1.4"/>
<line x1="460.50" y1="187.10" x2="467.30" y2="187.10" stroke="#000" stroke-width="1.4"/>
<circle cx="463.9" cy="187.1" r="1.7" fill="#000" stroke="#000" stroke-width="0.9"/>
<text transform="translate(473.38,189.40) scale(1.102,1)" font-size="7.0" font-family="'Liberation Serif',serif" font-weight="bold" letter-spacing="0.401" stroke="#000" stroke-width="0.42">Thrombin</text>
<line x1="457.20" y1="193.10" x2="460.50" y2="193.10" stroke="#000" stroke-width="1.4"/>
<line x1="467.30" y1="193.10" x2="471.70" y2="193.10" stroke="#000" stroke-width="1.4"/>
<circle cx="463.9" cy="193.1" r="1.7" fill="#999" stroke="#000" stroke-width="0.9"/>
<text transform="translate(473.15,195.40) scale(1.100,1)" font-size="7.0" font-family="'Liberation Serif',serif" font-weight="bold" letter-spacing="0.432" stroke="#000" stroke-width="0.42">CAID+Thr</text>
</g>
</svg>
</body></html>
